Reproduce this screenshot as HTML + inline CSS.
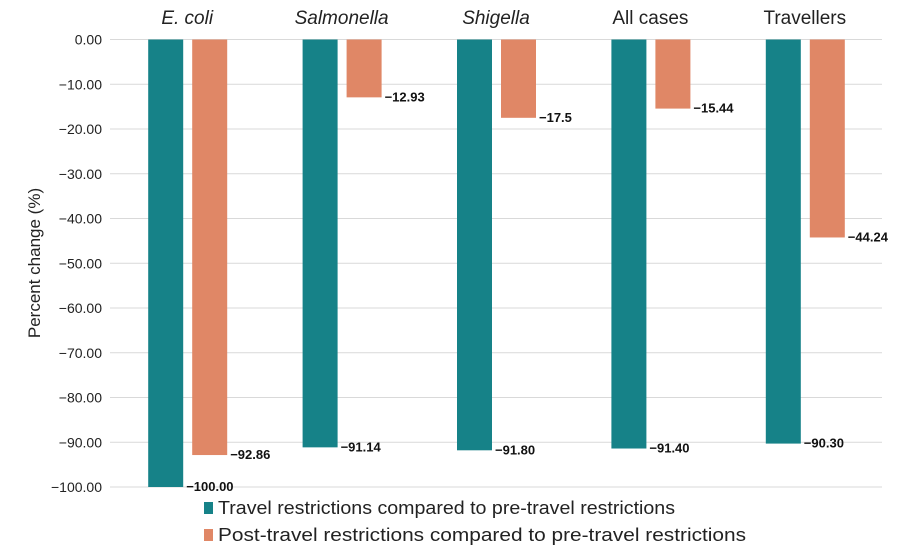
<!DOCTYPE html>
<html><head><meta charset="utf-8"><style>
body{margin:0;background:#fff;}
svg{display:block;font-family:"Liberation Sans",sans-serif;}
</style></head><body>
<svg id="chart" width="900" height="556"></svg>
<script>
const categories=["E. coli","Salmonella","Shigella","All cases","Travellers"];
const italicCats=[true,true,true,false,false];
const travelVals=[-100.00,-91.14,-91.80,-91.40,-90.30];
const postVals=[-92.86,-12.93,-17.5,-15.44,-44.24];
const travelLabels=["100.00","91.14","91.80","91.40","90.30"];
const postLabels=["92.86","12.93","17.5","15.44","44.24"];
const tickVals=[0,-10,-20,-30,-40,-50,-60,-70,-80,-90,-100];
const seriesNames=["Travel restrictions compared to pre-travel restrictions","Post-travel restrictions compared to pre-travel restrictions"];
const legendLens=[457,528];
const colors=["#168288","#e08766"];
const svg=document.getElementById('chart');
const NS="http://www.w3.org/2000/svg";
const L=110,R=882,T=39.5,B=487;
const y=v=>T+(0-v)/100*(B-T);
const band=(R-L)/categories.length;
const cx=i=>L+band*(i+0.5);
function el(t,a,txt){const e=document.createElementNS(NS,t);for(const k in a)e.setAttribute(k,a[k]);if(txt!=null)e.textContent=txt;svg.appendChild(e);return e;}
tickVals.forEach(v=>{
 const g=el('line',{x1:L,x2:R,y1:y(v),y2:y(v),stroke:'#d9d9d9','stroke-width':1});
 
 
 const t=el('text',{x:102,y:y(v)+5,'text-anchor':'end','font-size':14,fill:'#222'},(v<0?'\u2212'+Math.abs(v).toFixed(2):v.toFixed(2)));
 
 
});
const at=el('text',{x:0,y:0,transform:'translate(40,263) rotate(-90)','text-anchor':'middle','font-size':17,fill:'#222'},'Percent change (%)');


categories.forEach((c,i)=>{
 const t=el('text',{x:cx(i),y:24,'text-anchor':'middle','font-size':19,fill:'#222','font-style':italicCats[i]?'italic':'normal'},c);
 
 
 [[travelVals,travelLabels,-39,0],[postVals,postLabels,5,1]].forEach(([arr,lab,off,s])=>{
  const v=arr[i];const x=cx(i)+off;
  const r=el('rect',{x:x,y:y(0),width:35,height:y(v)-y(0),fill:colors[s]});
  
  
  const lb=el('text',{x:x+38,y:y(v)+4,'font-size':13,'font-weight':'bold',fill:'#111'},'\u2212'+lab[i]);
  
  
 });
});
seriesNames.forEach((n,s)=>{
 const yy=508+s*27;
 const r=el('rect',{x:204,y:yy-6,width:9,height:12,fill:colors[s]});
 
 
 const t=el('text',{x:218,y:yy+6,'font-size':18,fill:'#222',textLength:legendLens[s],lengthAdjust:'spacingAndGlyphs'},n);
 
 
});
</script>
</body></html>
